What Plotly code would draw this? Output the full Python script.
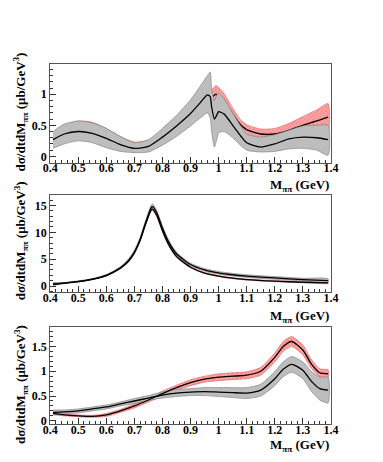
import plotly.graph_objects as go

# ---- panel 1 (top) ----
p1_grey_x = [0.41, 0.45, 0.5, 0.55, 0.6, 0.65, 0.7, 0.75, 0.8, 0.85, 0.9, 0.93, 0.96, 0.97, 0.975,
             0.985, 0.995, 1.0, 1.02, 1.05, 1.08, 1.1, 1.15, 1.2, 1.25, 1.3, 1.35, 1.39]
p1_grey_mid = [0.27, 0.36, 0.40, 0.37, 0.29, 0.19, 0.13, 0.16, 0.31, 0.49, 0.69, 0.84, 0.99, 0.96, 0.8,
               0.6, 0.68, 0.72, 0.68, 0.5, 0.32, 0.22, 0.15, 0.2, 0.28, 0.31, 0.30, 0.27]
p1_grey_hi = [0.40, 0.52, 0.57, 0.54, 0.45, 0.32, 0.22, 0.27, 0.45, 0.66, 0.91, 1.1, 1.3, 1.36, 1.1,
              0.9, 1.0, 1.02, 0.92, 0.7, 0.48, 0.36, 0.31, 0.35, 0.42, 0.49, 0.5, 0.5]
p1_grey_lo = [0.13, 0.2, 0.25, 0.22, 0.14, 0.08, 0.06, 0.07, 0.18, 0.32, 0.49, 0.6, 0.7, 0.62, 0.4,
              0.15, 0.3, 0.38, 0.4, 0.3, 0.17, 0.1, 0.07, 0.08, 0.12, 0.13, 0.1, 0.02]
p1_red_x = [0.41, 0.45, 0.5, 0.55, 0.6, 0.65, 0.7, 0.75, 0.8, 0.85, 0.9, 0.95, 0.975, 0.99, 1.0,
            1.02, 1.05, 1.08, 1.1, 1.15, 1.2, 1.25, 1.3, 1.35, 1.39]
p1_red_mid = [0.3, 0.41, 0.47, 0.45, 0.36, 0.25, 0.17, 0.2, 0.34, 0.52, 0.74, 0.95, 0.95, 1.0, 0.97,
              0.88, 0.68, 0.5, 0.43, 0.36, 0.36, 0.42, 0.5, 0.57, 0.63]
p1_red_err = [0.08, 0.09, 0.1, 0.1, 0.09, 0.07, 0.06, 0.06, 0.08, 0.1, 0.12, 0.13, 0.12, 0.14, 0.14,
              0.13, 0.1, 0.08, 0.08, 0.08, 0.09, 0.11, 0.14, 0.18, 0.22]

# ---- panel 2 (middle) ----
p2_x = [0.41, 0.45, 0.5, 0.55, 0.6, 0.65, 0.68, 0.7, 0.72, 0.74, 0.76, 0.765, 0.78, 0.8, 0.82,
        0.85, 0.9, 0.95, 1.0, 1.05, 1.1, 1.2, 1.3, 1.39]
p2_grey_mid = [0.35, 0.55, 0.85, 1.3, 2.0, 3.4, 4.8, 6.3, 8.6, 11.8, 14.6, 14.8, 13.6, 10.8, 8.4,
               6.0, 4.0, 3.0, 2.45, 2.1, 1.85, 1.5, 1.2, 1.0]
p2_grey_err = [0.3, 0.1, 0.1, 0.1, 0.15, 0.2, 0.3, 0.35, 0.4, 0.45, 0.5, 0.5, 0.45, 0.4, 0.35,
               0.3, 0.25, 0.25, 0.25, 0.25, 0.25, 0.25, 0.25, 0.35]
p2_red_mid = [0.33, 0.52, 0.8, 1.25, 1.95, 3.3, 4.7, 6.2, 8.5, 11.6, 14.2, 14.3, 13.1, 10.3, 7.9,
              5.5, 3.5, 2.4, 1.85, 1.45, 1.2, 0.9, 0.7, 0.6]
p2_red_err = [0.1, 0.05, 0.05, 0.05, 0.08, 0.1, 0.12, 0.15, 0.18, 0.2, 0.22, 0.22, 0.2, 0.18, 0.15,
              0.12, 0.1, 0.1, 0.1, 0.1, 0.1, 0.1, 0.1, 0.12]

# ---- panel 3 (bottom) ----
p3_x = [0.41, 0.45, 0.5, 0.55, 0.6, 0.65, 0.7, 0.75, 0.8, 0.85, 0.9, 0.95, 1.0, 1.05, 1.1, 1.15,
        1.2, 1.23, 1.26, 1.3, 1.33, 1.36, 1.39]
p3_grey_mid = [0.17, 0.18, 0.2, 0.24, 0.28, 0.34, 0.4, 0.46, 0.52, 0.56, 0.58, 0.59, 0.58, 0.57,
               0.56, 0.62, 0.85, 1.04, 1.14, 1.02, 0.8, 0.65, 0.62]
p3_grey_err = [0.05, 0.04, 0.04, 0.04, 0.04, 0.04, 0.05, 0.05, 0.06, 0.07, 0.07, 0.08, 0.09, 0.1,
               0.11, 0.12, 0.14, 0.15, 0.16, 0.17, 0.2, 0.23, 0.26]
p3_red_mid = [0.15, 0.12, 0.1, 0.09, 0.12, 0.2, 0.3, 0.42, 0.55, 0.67, 0.77, 0.84, 0.88, 0.9, 0.92,
              1.0, 1.28, 1.5, 1.6, 1.43, 1.15, 0.97, 0.95]
p3_red_err = [0.03, 0.02, 0.02, 0.02, 0.03, 0.03, 0.04, 0.04, 0.05, 0.05, 0.06, 0.06, 0.07, 0.07,
              0.07, 0.08, 0.09, 0.1, 0.1, 0.1, 0.09, 0.08, 0.08]

FONT = "Liberation Serif"
GREY_FILL = "#bdbdbd"

panels = [
    dict(gx=p1_grey_x, gm=p1_grey_mid, ghi=p1_grey_hi, glo=p1_grey_lo,
         rx=p1_red_x, rm=p1_red_mid,
         rhi=[m + e for m, e in zip(p1_red_mid, p1_red_err)],
         rlo=[m - e for m, e in zip(p1_red_mid, p1_red_err)],
         yr=[-0.1, 1.48], dt=0.5, mdt=0.1, dom=[1 - 164 / 462, 1 - 65 / 462], red_line_under=True),
    dict(gx=p2_x, gm=p2_grey_mid,
         ghi=[m + e for m, e in zip(p2_grey_mid, p2_grey_err)],
         glo=[m - e for m, e in zip(p2_grey_mid, p2_grey_err)],
         rx=p2_x, rm=p2_red_mid,
         rhi=[m + e for m, e in zip(p2_red_mid, p2_red_err)],
         rlo=[m - e for m, e in zip(p2_red_mid, p2_red_err)],
         yr=[-1.2, 16.9], dt=5, mdt=1, dom=[1 - 295 / 462, 1 - 197 / 462], red_line_under=False),
    dict(gx=p3_x, gm=p3_grey_mid,
         ghi=[m + e for m, e in zip(p3_grey_mid, p3_grey_err)],
         glo=[m - e for m, e in zip(p3_grey_mid, p3_grey_err)],
         rx=p3_x, rm=p3_red_mid,
         rhi=[m + e for m, e in zip(p3_red_mid, p3_red_err)],
         rlo=[m - e for m, e in zip(p3_red_mid, p3_red_err)],
         yr=[-0.07, 1.89], dt=0.5, mdt=0.1, dom=[1 - 428 / 462, 1 - 330 / 462], red_line_under=False),
]

fig = go.Figure()
xdom = [44 / 383, 337 / 383]
tfont = dict(family=FONT, size=12, color="black", weight="bold")


def red_band(x, hi, lo, xa, ya):
    return go.Scatter(x=list(x) + list(x)[::-1], y=list(hi) + list(lo)[::-1], fill="toself",
                      fillcolor="#ff8c8c", mode="lines",
                      fillpattern=dict(shape="x", size=3, solidity=0.35,
                                       fgcolor="#e84040", bgcolor="#ffa8a8"),
                      line=dict(color="#e06060", width=0.6, shape="spline", smoothing=0.6),
                      xaxis=xa, yaxis=ya, hoverinfo="skip", showlegend=False)


def grey_band(x, hi, lo, xa, ya):
    return go.Scatter(x=list(x) + list(x)[::-1], y=list(hi) + list(lo)[::-1], fill="toself",
                      fillcolor=GREY_FILL, mode="lines",
                      line=dict(color="#7a7a7a", width=0.6, shape="spline", smoothing=0.6),
                      xaxis=xa, yaxis=ya, hoverinfo="skip", showlegend=False)


def curve(x, y, xa, ya):
    return go.Scatter(x=x, y=y, mode="lines",
                      line=dict(color="black", width=1.3, shape="spline", smoothing=0.6),
                      xaxis=xa, yaxis=ya, showlegend=False)


for i, p in enumerate(panels):
    n = "" if i == 0 else str(i + 1)
    xa, ya = "x" + n, "y" + n
    fig.add_trace(red_band(p["rx"], p["rhi"], p["rlo"], xa, ya))
    if p["red_line_under"]:
        fig.add_trace(curve(p["rx"], p["rm"], xa, ya))
    fig.add_trace(grey_band(p["gx"], p["ghi"], p["glo"], xa, ya))
    if not p["red_line_under"]:
        fig.add_trace(curve(p["rx"], p["rm"], xa, ya))
    fig.add_trace(curve(p["gx"], p["gm"], xa, ya))

    axkey = "xaxis" + n
    aykey = "yaxis" + n
    fig.layout[axkey] = dict(domain=xdom, range=[0.4, 1.4], anchor=ya, dtick=0.1, tick0=0.4,
                             ticks="inside", ticklen=6, tickcolor="#333", showline=True,
                             linecolor="#555", linewidth=1, mirror=True, showgrid=False,
                             zeroline=False, tickfont=tfont, ticklabelstandoff=-6,
                             minor=dict(ticks="inside", dtick=0.02, ticklen=3, tickcolor="#333"))
    fig.layout[aykey] = dict(domain=p["dom"], range=p["yr"], anchor=xa, dtick=p["dt"], tick0=0,
                             ticks="inside", ticklen=6, tickcolor="#333", showline=True,
                             linecolor="#555", linewidth=1, mirror=True, showgrid=False,
                             zeroline=False, tickfont=tfont,
                             minor=dict(ticks="inside", dtick=p["mdt"], ticklen=3, tickcolor="#333"))

xtitle_y = [187, 319, 449]
ytitle_y = [113, 243, 388]
for ty in xtitle_y:
    fig.add_annotation(text="M<sub>ππ</sub> (GeV)", xref="paper", yref="paper",
                       x=337 / 383, y=1 - ty / 462, xanchor="right", yanchor="middle",
                       showarrow=False, font=dict(family=FONT, size=13, color="black", weight="bold"))
for ty in ytitle_y:
    fig.add_annotation(text="dσ/dtdM<sub>ππ</sub> (μb/GeV<sup>3</sup>)", xref="paper", yref="paper",
                       x=13 / 383, y=1 - ty / 462, xanchor="center", yanchor="middle", textangle=-90,
                       showarrow=False, font=dict(family=FONT, size=13, color="black", weight="bold"))

fig.update_layout(width=383, height=462, margin=dict(l=0, r=0, t=0, b=0),
                  paper_bgcolor="white", plot_bgcolor="white", showlegend=False)

fig.write_html("out.html", config={"displayModeBar": False},
               post_script="document.body.style.margin='0';")
